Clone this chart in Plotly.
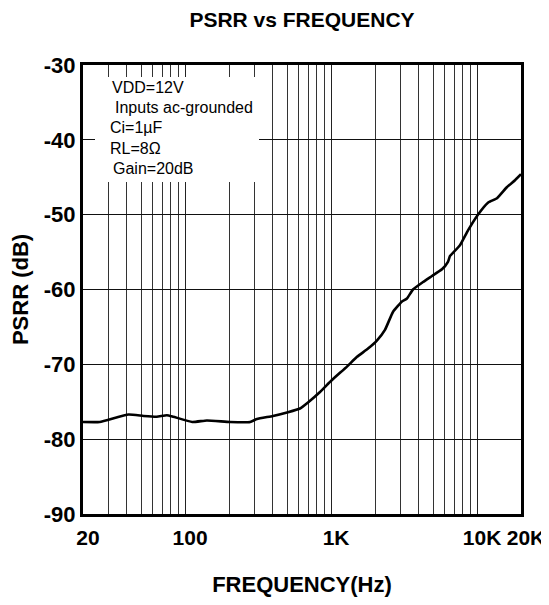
import plotly.graph_objects as go

# ---- data ----
freq_hz = [20, 26, 41, 52, 64, 75, 83, 112, 141, 203, 279, 311, 400, 507, 613, 695,
           840, 1014, 1285, 1506, 1792, 2066, 2340, 2655, 3060, 3310, 3640, 4265,
           4910, 5750, 6320, 6530, 6840, 7640, 8670, 10140, 11880, 13700, 16040,
           18190, 20000]
psrr_db = [-77.7, -77.7, -76.7, -76.9, -77.0, -76.8, -77.0, -77.7, -77.5, -77.7,
           -77.7, -77.3, -76.9, -76.4, -75.9, -75.1, -73.7, -72.1, -70.3, -69.0,
           -67.9, -66.8, -65.4, -63.0, -61.6, -61.2, -60.0, -59.0, -58.2, -57.3,
           -56.3, -55.5, -55.1, -54.1, -52.1, -50.0, -48.4, -47.8, -46.3, -45.4,
           -44.6]

x_tick_vals = [20, 100, 1000, 10000, 20000]
x_tick_text = ["20", "100", "1K", "10K", "20K"]
y_tick_vals = [-90, -80, -70, -60, -50, -40, -30]
y_tick_text = ["-90", "-80", "-70", "-60", "-50", "-40", "-30"]

note_lines = ["VDD=12V", "Inputs ac-grounded", "Ci=1µF", "RL=8Ω", "Gain=20dB"]

minor_grid = [m * d for d in (10, 100, 1000) for m in range(2, 10)]
minor_grid = [v for v in minor_grid if 20 < v < 20000 and v not in x_tick_vals]

FONT = "Liberation Sans, Arial, Helvetica, sans-serif"

OFF = 8                      # default body margin of the html page
W, H = 549 - OFF, 605 - OFF
L, R, T, B = 83 - OFF, 28, 65 - OFF, 91
pw, ph = W - L - R, H - T - B

fig = go.Figure()
fig.add_trace(go.Scatter(x=freq_hz, y=psrr_db, mode="lines",
                         line=dict(color="black", width=2.6, shape="spline", smoothing=0.4),
                         showlegend=False, hoverinfo="x+y"))

def px_x(p):
    return (p - OFF - L) / pw

def px_y(p):
    return 1 - (p - OFF - T) / ph

# white box behind the notes
fig.add_shape(type="rect", xref="paper", yref="paper",
              x0=px_x(95), x1=px_x(259), y0=px_y(182), y1=px_y(77),
              fillcolor="white", line=dict(width=0), layer="above")

note_x = [110, 113, 108, 108, 111]
for i, txt in enumerate(note_lines):
    fig.add_annotation(text=txt, xref="paper", yref="paper",
                       x=px_x(note_x[i]), y=px_y(88 + 20 * i),
                       xanchor="left", yanchor="middle", showarrow=False,
                       font=dict(family=FONT, size=16, color="black"))

fig.update_layout(
    width=W, height=H,
    margin=dict(l=L, r=R, t=T, b=B, autoexpand=False),
    paper_bgcolor="white", plot_bgcolor="white",
    title=dict(text="<b>PSRR vs FREQUENCY</b>", x=(L + pw / 2) / W, xref="container",
               xanchor="center", y=1 - (20 - OFF) / H, yref="container", yanchor="middle",
               font=dict(family=FONT, size=21, color="black")),
    showlegend=False,
)

fig.update_xaxes(
    type="log", range=[1.30103, 4.30103], automargin=False,
    tickvals=x_tick_vals, ticktext=["<b>%s</b>" % t for t in x_tick_text],
    tickfont=dict(family=FONT, size=21, color="black"),
    ticks="outside", ticklen=3, tickcolor="rgba(0,0,0,0)",
    ticklabelshift=5,
    showgrid=True, gridcolor="#222", gridwidth=1,
    minor=dict(tickvals=minor_grid, showgrid=True, gridcolor="#333", gridwidth=1, ticks=""),
    showline=True, linecolor="black", linewidth=3, mirror=True,
    zeroline=False,
    title=dict(text="<b>FREQUENCY(Hz)</b>", standoff=29,
               font=dict(family=FONT, size=22, color="black")),
)

fig.update_yaxes(
    range=[-90, -30], automargin=False,
    tickvals=y_tick_vals, ticktext=["<b>%s</b>" % t for t in y_tick_text],
    tickfont=dict(family=FONT, size=22, color="black"),
    ticks="",
    showgrid=True, gridcolor="#111", gridwidth=1.2,
    showline=True, linecolor="black", linewidth=3, mirror=True,
    zeroline=False,
    title=dict(text="<b>PSRR (dB)</b>", standoff=14,
               font=dict(family=FONT, size=22, color="black")),
)

fig.write_html("out.html")
